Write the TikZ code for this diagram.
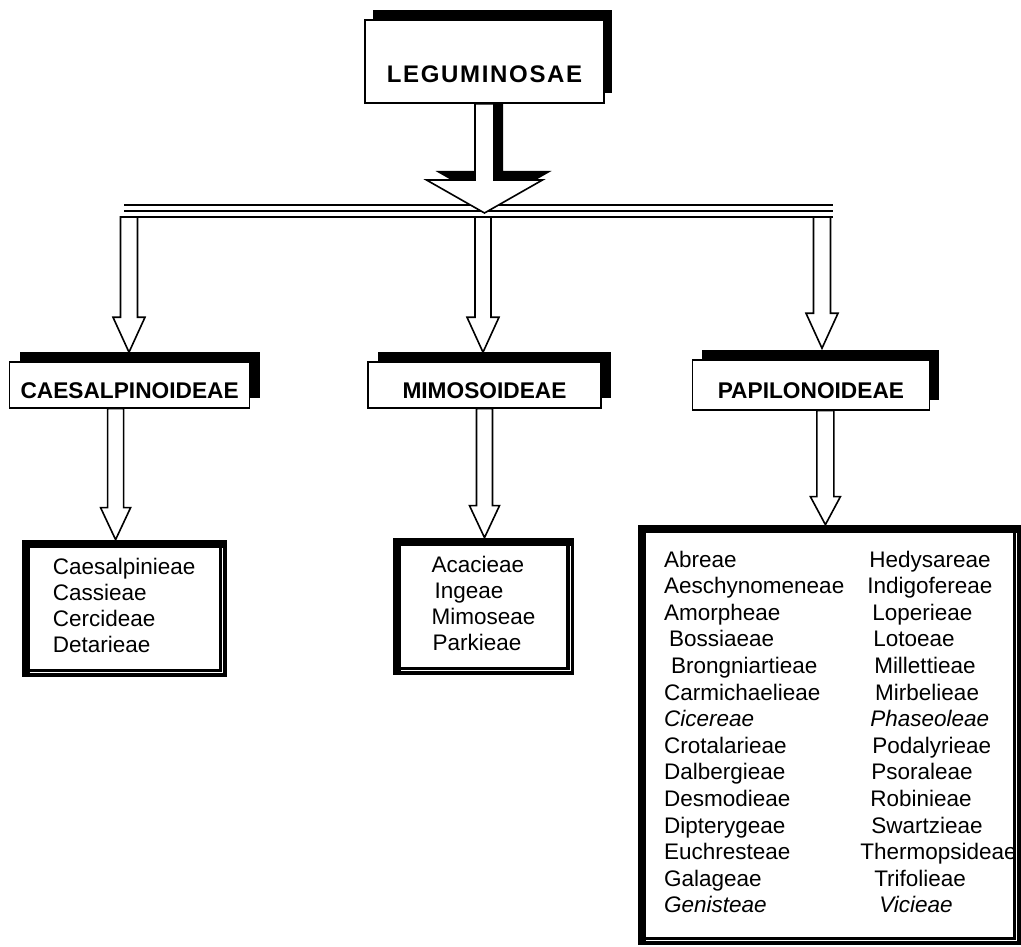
\documentclass[tikz,border=0pt]{standalone}
\usepackage{fontspec}
\setmainfont{Liberation Sans}
\usetikzlibrary{positioning,calc,shadows}
\pgfdeclarelayer{back}
\pgfsetlayers{back,main}

% hollow block arrow: [style]{from}{to}{half shaft}{half head}{head length}
\newcommand{\fatarrow}[6][fatarr]{%
  \path[#1] ($(#2)+(-#4,0)$) -- ($(#2 |- #3)+(-#4,-#6)$)
    -- ($(#2 |- #3)+(-#5,-#6)$) -- (#2 |- #3)
    -- ($(#2 |- #3)+(#5,-#6)$) -- ($(#2 |- #3)+(#4,-#6)$)
    -- ($(#2)+(#4,0)$) -- cycle;}

\begin{document}
\begin{tikzpicture}[x=1pt, y=-1pt,
  topbox/.style={draw, line width=1.5pt, fill=white, minimum width=239pt,
                 minimum height=83pt, inner sep=0pt, text height=45pt, text depth=2pt,
                 font=\fontsize{24}{28}\selectfont\bfseries\addfontfeatures{LetterSpace=7},
                 drop shadow={shadow xshift=8pt, shadow yshift=10pt, fill=black, opacity=1}},
  subbox/.style={draw, line width=1.4pt, fill=white, minimum height=46pt,
                 inner sep=0pt, text height=28pt, text depth=1.6pt,
                 font=\fontsize{22.7}{26}\selectfont\bfseries,
                 drop shadow={shadow xshift=10pt, shadow yshift=10pt, fill=black, opacity=1}},
  tribebox/.style={draw, line width=8pt, fill=white, inner sep=0pt,
                   font=\fontsize{22.5}{26}\selectfont},
  fatarr/.style={draw, fill=white, line width=1.6pt, line join=miter},
  bigarr/.style={fatarr, drop shadow={shadow xshift=9pt, shadow yshift=9pt, fill=black, opacity=1}},
  busline/.style={line width=1.6pt}
]
  \useasboundingbox (0,0) rectangle (1021,947);

  % Family
  \node[topbox] (lg) at (484.5,61.5) {LEGUMINOSAE};

  % Subfamilies
  \node[subbox, minimum width=233pt, below=257.5pt of lg] (mim) {MIMOSOIDEAE};
  \node[subbox, minimum width=240pt, left=117pt of mim] (cae) {CAESALPINOIDEAE};
  \node[subbox, minimum width=237pt, minimum height=50pt, right=90pt of mim] (pap) {PAPILONOIDEAE};

  % Tribes
  \node[tribebox, minimum width=197pt, minimum height=129pt, below=131pt of cae, xshift=-5.5pt] (caeT)
    {\begin{tabular}{@{}l@{}}Caesalpinieae\\Cassieae\\Cercideae\\Detarieae\end{tabular}};
  \node[tribebox, minimum width=173pt, minimum height=129pt, below=129pt of mim, xshift=-1pt] (mimT)
    {\begin{tabular}{@{}l@{}}Acacieae\\\hspace{3pt}Ingeae\\Mimoseae\\\hspace{1pt}Parkieae\end{tabular}};
  \node[tribebox, minimum width=374pt, minimum height=412pt, below=114pt of pap, xshift=18.5pt,
        font=\fontsize{22.5}{26.6}\selectfont] (papT)
    {\begin{tabular}{@{\hspace{22pt}}l@{\hspace{23pt}}l@{}}
      Abreae & \hspace{2pt}Hedysareae\\
      Aeschynomeneae & Indigofereae\\
      Amorpheae & \hspace{5pt}Loperieae\\
      \hspace{5pt}Bossiaeae & \hspace{6pt}Lotoeae\\
      \hspace{7pt}Brongniartieae & \hspace{7pt}Millettieae\\
      Carmichaelieae & \hspace{8pt}Mirbelieae\\
      \textit{Cicereae} & \hspace{3pt}\textit{Phaseoleae}\\
      Crotalarieae & \hspace{5pt}Podalyrieae\\
      Dalbergieae & \hspace{4pt}Psoraleae\\
      Desmodieae & \hspace{3pt}Robinieae\\
      Dipterygeae & \hspace{4pt}Swartzieae\\
      Euchresteae & \hspace{-7pt}Thermopsideae\\
      Galageae & \hspace{7pt}Trifolieae\\
      \textit{Genisteae} & \hspace{12pt}\textit{Vicieae}
    \end{tabular}};

  % double edge on right and bottom of the tribe frames
  \foreach \b in {caeT,mimT,papT}
    \draw[white, line width=1pt] ([shift={(8pt,4pt)}]\b.south west)
      -- ([shift={(-4pt,4pt)}]\b.south east) -- ([shift={(-4pt,-8pt)}]\b.north east);

  % Points on the bus and arrow ends
  \coordinate (hub) at (484,213);
  \coordinate (busW) at (124,205);
  \coordinate (busE) at (833,205);
  \coordinate (dropC) at (129,217);
  \coordinate (dropM) at (483,217);
  \coordinate (dropP) at (822,217);
  \coordinate (caeIn) at ([yshift=9pt]cae.north);
  \coordinate (mimIn) at ([yshift=9pt]mim.north);
  \coordinate (papIn) at ([yshift=11pt]pap.north);
  \coordinate (caeOut) at ([xshift=-14pt]cae.south);
  \coordinate (papOut) at ([xshift=14.5pt]pap.south);

  \begin{pgfonlayer}{back}
    % Bus
    \foreach \d in {0,6,12}
      \draw[busline] ([yshift=-\d pt]busW) -- ([yshift=-\d pt]busE);
    % Family to bus
    \fatarrow[bigarr]{lg.south}{hub}{9.5}{58}{33}
    % Bus to subfamilies
    \fatarrow{dropC}{caeIn}{8.5}{16}{35}
    \fatarrow{dropM}{mimIn}{8}{16}{35}
    \fatarrow{dropP}{papIn}{8.5}{16}{35}
    % Subfamilies to tribes
    \fatarrow{caeOut}{caeT.north}{8}{15}{32}
    \fatarrow{mim.south}{mimT.north}{8}{15}{32}
    \fatarrow{papOut}{papT.north}{8.5}{15}{28}
  \end{pgfonlayer}
\end{tikzpicture}
\end{document}
